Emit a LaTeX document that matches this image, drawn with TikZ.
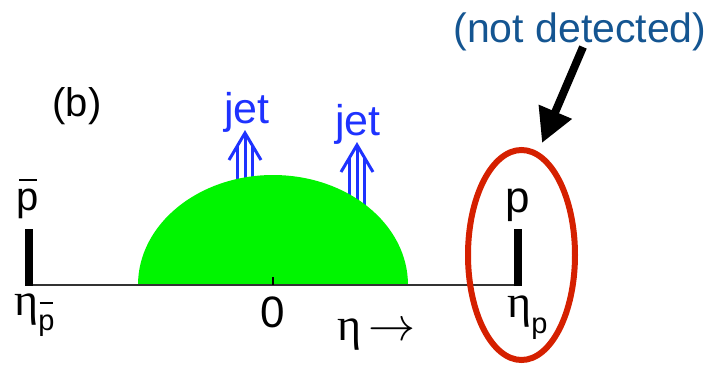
\documentclass[tikz,border=0pt]{standalone}
\usepackage{fontspec}
\usepackage{graphicx}
\setmainfont{Liberation Sans}
\newfontfamily\grk{Liberation Serif}
\usetikzlibrary{arrows.meta}
\definecolor{jetblue}{RGB}{30,50,255}
\definecolor{ndblue}{RGB}{20,85,145}
\definecolor{hotgreen}{RGB}{0,245,0}
\definecolor{ringred}{RGB}{213,32,0}
\newcommand\mypbar[1]{\makebox[0pt][l]{\hspace{0.05em}\rule[#1]{0.46em}{0.06em}}p}
\tikzset{
  lbl/.style={inner sep=0pt, font=\fontsize{#1}{#1}\selectfont},
  jetline/.style={draw=jetblue, line width=3pt},
  bar/.style={fill=black, draw=none},
}
\begin{document}
\begin{tikzpicture}[x=1pt,y=-1pt]
\useasboundingbox (0,0) rectangle (716,368);
% jet labels
\node[lbl=43, text=jetblue, anchor=base] (jet1) at (247,123) {jet};
\node[lbl=43, text=jetblue, anchor=base] (jet2) at (358,135) {jet};
% jet arrows (triple shafted), drawn under the green region
\foreach \cx/\tip in {245/133, 357/145}{
  \draw[jetline] (\cx,\tip) -- (\cx,240);
  \draw[jetline] (\cx-7.5,\tip+12.5) -- (\cx-7.5,240);
  \draw[jetline] (\cx+7.5,\tip+12.5) -- (\cx+7.5,240);
  \draw[jetline, line join=miter] (\cx-16,\tip+27) -- (\cx,\tip) -- (\cx+16,\tip+27);
}
% green region
\fill[hotgreen] (138,285) arc[start angle=180, end angle=360, x radius=135, y radius=110] -- cycle;
% axis
\coordinate (axL) at (25,285);
\coordinate (axR) at (520,285);
\draw[line width=1.6pt, black!80] (axL) -- (axR);
\draw[line width=2pt] (273,285) -- (273,277);
% bars
\fill[bar] (25,229) rectangle (33,285.8);
\fill[bar] (514,229) rectangle (522,285.8);
% labels
\node[lbl=40, anchor=base] (b) at (77,116) {(b)};
\node[lbl=40, anchor=base] (pbar) at (28,210) {\mypbar{0.72em}};
\node[lbl=44, anchor=base] (p) at (518,212) {p};
\node[lbl=44, anchor=base] (zero) at (273,327) {0};
\node[lbl=46, anchor=base west] (etapbar) at (14,315) {{\grk η}\raisebox{-15pt}{\fontsize{29}{29}\selectfont\mypbar{0.9em}}};
\node[lbl=46, anchor=base west] (etap) at (507,317) {{\grk η}\raisebox{-16pt}{\fontsize{29}{29}\selectfont p}};
\node[lbl=46, anchor=base west] (etaarr) at (337,340) {{\grk η}\hspace{7pt}\scalebox{4.7}{\fontsize{10}{12}\selectfont$\rightarrow$}};
% not detected
\node[lbl=41, text=ndblue, anchor=base] (nd) at (580,42) {(not detected)};
\coordinate (arrS) at (583,47);
\coordinate (arrE) at (542,143);
\draw[line width=8pt, -{Triangle[length=34pt,width=34pt]}] (arrS) -- (arrE);
% red ring
\draw[ringred, line width=6pt] (521.5,255) ellipse[x radius=53.5, y radius=105];
\end{tikzpicture}
\end{document}
